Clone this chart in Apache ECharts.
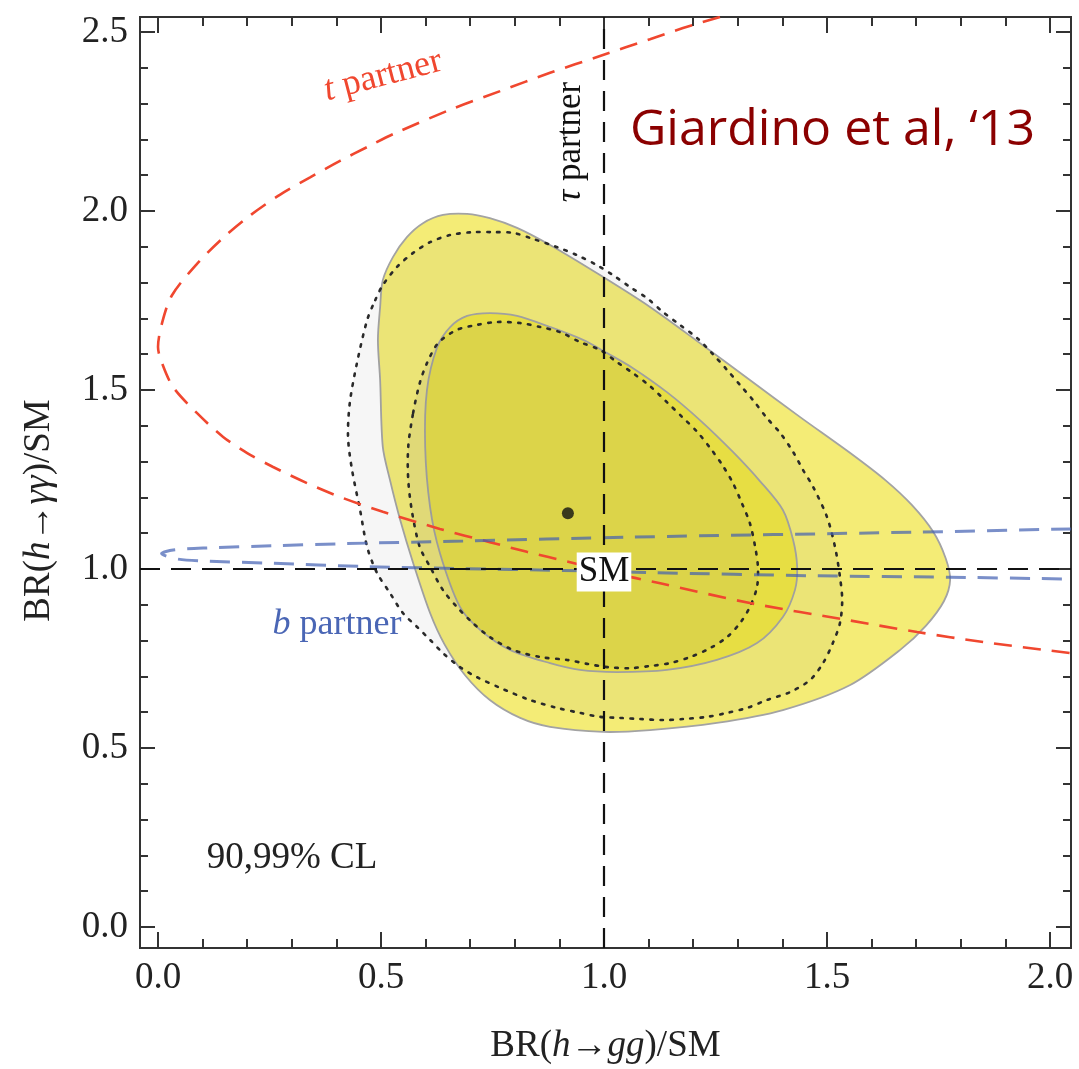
<!DOCTYPE html>
<html><head><meta charset="utf-8">
<script src="https://cdn.jsdelivr.net/npm/echarts@6/dist/echarts.min.js"></script>
<style>html,body{margin:0;padding:0;background:#fff}#c{width:1079px;height:1069px}</style>
</head><body><div id="c"></div>
<script>
// ---------- data (axis units) ----------
const xRange = [-0.0404, 2.047];
const yRange = [-0.0587, 2.542];
const xMajorTicks = [0, 0.5, 1.0, 1.5, 2.0];
const xTickLabels = ['0.0', '0.5', '1.0', '1.5', '2.0'];
const xMinorTicks = [0.1,0.2,0.3,0.4,0.6,0.7,0.8,0.9,1.1,1.2,1.3,1.4,1.6,1.7,1.8,1.9];
const yMajorTicks = [0, 0.5, 1.0, 1.5, 2.0, 2.5];
const yTickLabels = ['0.0', '0.5', '1.0', '1.5', '2.0', '2.5'];
const yMinorTicks = [0.1,0.2,0.3,0.4,0.6,0.7,0.8,0.9,1.1,1.2,1.3,1.4,1.6,1.7,1.8,1.9,2.1,2.2,2.3,2.4];

const bestFit = [[0.919, 1.156]];
const smPoint = [1.0, 1.0];

// 99% CL region (yellow, solid outline)
const fit99 = [[0.693,1.992],[0.744,1.980],[0.805,1.953],[0.879,1.905],[0.991,1.821],[1.103,1.732],[1.215,1.631],
  [1.327,1.528],[1.439,1.425],[1.552,1.324],[1.630,1.249],[1.690,1.179],[1.738,1.104],[1.766,1.030],[1.776,0.969],[1.762,0.910],
  [1.722,0.842],[1.664,0.774],[1.552,0.676],[1.401,0.606],[1.253,0.570],[1.103,0.550],[0.998,0.545],[0.879,0.559],
  [0.812,0.584],[0.744,0.634],[0.688,0.704],[0.643,0.788],[0.610,0.877],[0.572,1.017],[0.543,1.137],[0.520,1.249],
  [0.504,1.341],[0.498,1.528],[0.493,1.640],[0.498,1.732],[0.504,1.807],[0.527,1.872],[0.558,1.927],[0.594,1.966],[0.639,1.989]];
// 90% CL region (yellow, solid outline)
const fit90 = [[0.603,1.500],[0.626,1.620],[0.655,1.676],[0.693,1.707],[0.744,1.715],[0.805,1.707],[0.879,1.676],
  [0.953,1.640],[1.007,1.603],[1.065,1.561],[1.141,1.494],[1.215,1.416],[1.289,1.327],[1.350,1.245],[1.401,1.165],
  [1.424,1.081],[1.433,1.006],[1.428,0.941],[1.401,0.866],[1.343,0.793],[1.253,0.746],[1.141,0.718],[1.029,0.712],
  [0.946,0.718],[0.879,0.737],[0.789,0.774],[0.722,0.830],[0.677,0.894],[0.632,1.045],[0.610,1.173],[0.599,1.341]];
// 99% CL region (dotted contour)
const alt99 = [[0.487,1.751],[0.504,1.793],[0.536,1.844],[0.572,1.883],[0.610,1.913],[0.655,1.933],[0.706,1.941],
  [0.751,1.941],[0.796,1.939],[0.841,1.922],[0.895,1.899],[0.939,1.877],[0.984,1.849],[1.020,1.821],[1.058,1.788],
  [1.096,1.757],[1.132,1.718],[1.170,1.682],[1.209,1.645],[1.242,1.603],[1.276,1.556],[1.305,1.514],[1.334,1.472],
  [1.365,1.422],[1.395,1.380],[1.424,1.327],[1.446,1.277],[1.469,1.229],[1.500,1.145],[1.518,1.061],[1.529,0.978],
  [1.534,0.913],[1.529,0.849],[1.513,0.793],[1.491,0.737],[1.462,0.690],[1.417,0.656],[1.365,0.634],[1.321,0.612],
  [1.276,0.598],[1.231,0.587],[1.177,0.581],[1.132,0.578],[1.081,0.581],[1.036,0.584],[0.991,0.587],[0.946,0.598],
  [0.895,0.612],[0.834,0.634],[0.767,0.668],[0.715,0.698],[0.677,0.726],[0.639,0.765],[0.610,0.802],[0.581,0.838],
  [0.549,0.877],[0.520,0.933],[0.491,0.989],[0.469,1.061],[0.453,1.165],[0.435,1.277],[0.426,1.369],[0.430,1.464],
  [0.446,1.575],[0.469,1.696]];
// 90% CL region (dotted contour)
const alt90 = [[0.572,1.436],[0.587,1.520],[0.603,1.575],[0.628,1.631],[0.670,1.668],[0.715,1.682],[0.760,1.690],
  [0.812,1.687],[0.857,1.676],[0.901,1.662],[0.946,1.634],[0.991,1.612],[1.029,1.578],[1.065,1.547],[1.103,1.511],
  [1.141,1.466],[1.175,1.425],[1.209,1.383],[1.238,1.338],[1.265,1.291],[1.289,1.240],[1.309,1.184],[1.327,1.128],
  [1.339,1.061],[1.345,1.006],[1.343,0.950],[1.327,0.894],[1.305,0.849],[1.276,0.810],[1.238,0.779],[1.193,0.754],
  [1.148,0.737],[1.103,0.729],[1.058,0.723],[1.007,0.726],[0.962,0.735],[0.917,0.746],[0.857,0.754],[0.796,0.774],
  [0.744,0.810],[0.706,0.849],[0.670,0.894],[0.639,0.941],[0.610,1.006],[0.587,1.061],[0.570,1.156],[0.561,1.249],
  [0.561,1.341]];
// t partner curve
const tPartner = [[1.260,2.542],[1.177,2.511],[1.103,2.480],[0.991,2.433],[0.879,2.386],[0.767,2.335],[0.655,2.283],
  [0.531,2.217],[0.471,2.180],[0.408,2.140],[0.341,2.094],[0.274,2.046],[0.209,1.990],[0.146,1.925],[0.085,1.849],
  [0.031,1.764],[0.009,1.687],[0.000,1.620],[0.009,1.575],[0.034,1.508],[0.087,1.436],[0.146,1.369],[0.200,1.324],
  [0.258,1.285],[0.334,1.240],[0.415,1.198],[0.504,1.160],[0.632,1.112],[0.744,1.075],[0.827,1.048],[0.924,1.019],
  [1.058,0.978],[1.126,0.960],[1.327,0.905],[1.552,0.856],[1.702,0.824],[1.850,0.796],[2.047,0.765]];
// b partner curve (upper branch right->left, then lower branch left->right)
const bPartner = [[2.047,1.112],[1.702,1.103],[1.058,1.089],[0.684,1.078],[0.424,1.071],[0.258,1.065],[0.110,1.059],
  [0.034,1.053],[0.008,1.043],[0.043,1.028],[0.110,1.022],[0.258,1.016],[0.460,1.007],[0.684,1.001],[0.908,0.996],
  [1.103,0.990],[1.478,0.981],[1.776,0.977],[2.047,0.972]];

// ---------- chart ----------
const SERIF = '"Liberation Serif", "Times New Roman", serif';
const chart = echarts.init(document.getElementById('c'), null, {renderer: 'canvas'});

function polySeries(name, pts, fill, stroke, lw, dash, z) {
  return {
    type: 'custom', name, coordinateSystem: 'cartesian2d', xAxisIndex: 0, yAxisIndex: 0,
    z, silent: true, clip: true,
    data: [[pts[0][0], pts[0][1]]],
    renderItem: (params, api) => ({
      type: 'polygon',
      shape: {points: pts.map(p => api.coord(p)), smooth: 0.3},
      style: {fill, stroke, lineWidth: lw, lineDash: dash, lineCap: 'round'}
    })
  };
}

const tickStyle = {color: '#333', width: 2};
function xAx(pos, ticks, len, withLabel, extra) {
  return Object.assign({
    type: 'value', position: pos, min: xRange[0], max: xRange[1], gridIndex: 0,
    axisLine: {show: true, onZero: false, lineStyle: {color: '#333', width: 2}},
    axisTick: {show: true, inside: true, length: len, customValues: ticks, lineStyle: tickStyle},
    axisLabel: withLabel ? {show: true, customValues: xMajorTicks, margin: 12,
      formatter: v => xTickLabels[xMajorTicks.findIndex(t => Math.abs(t - v) < 1e-6)] || '',
      fontFamily: SERIF, fontSize: 37, color: '#222'} : {show: false},
    splitLine: {show: false}
  }, extra || {});
}
function yAx(pos, ticks, len, withLabel, extra) {
  return Object.assign({
    type: 'value', position: pos, min: yRange[0], max: yRange[1], gridIndex: 0,
    axisLine: {show: true, onZero: false, lineStyle: {color: '#333', width: 2}},
    axisTick: {show: true, inside: true, length: len, customValues: ticks, lineStyle: tickStyle},
    axisLabel: withLabel ? {show: true, customValues: yMajorTicks, margin: 12,
      formatter: v => yTickLabels[yMajorTicks.findIndex(t => Math.abs(t - v) < 1e-6)] || '',
      fontFamily: SERIF, fontSize: 37, color: '#222'} : {show: false},
    splitLine: {show: false}
  }, extra || {});
}

const option = {
  backgroundColor: '#fff',
  animation: false,
  grid: {left: 140, right: 8, top: 17, bottom: 121, containLabel: false, outerBoundsMode: 'none'},
  xAxis: [
    xAx('bottom', xMajorTicks, 16, true, {
      name: 'BR({i|h}→{i|gg})/SM', nameLocation: 'middle', nameGap: 80, nameMoveOverlap: false,
      nameTextStyle: {fontFamily: SERIF, fontSize: 37, color: '#222',
        rich: {i: {fontFamily: SERIF, fontSize: 37, fontStyle: 'italic', color: '#222'}}}
    }),
    xAx('bottom', xMinorTicks, 9, false),
    xAx('top', xMajorTicks, 16, false),
    xAx('top', xMinorTicks, 9, false)
  ],
  yAxis: [
    yAx('left', yMajorTicks, 15, true, {
      name: 'BR({i|h}→{i|γγ})/SM', nameLocation: 'middle', nameGap: 82, nameMoveOverlap: false,
      nameTextStyle: {fontFamily: SERIF, fontSize: 37, color: '#222', padding: [0, 56, 0, 0],
        rich: {i: {fontFamily: SERIF, fontSize: 37, fontStyle: 'italic', color: '#222'}}}
    }),
    yAx('left', yMinorTicks, 8, false),
    yAx('right', yMajorTicks, 15, false),
    yAx('right', yMinorTicks, 8, false)
  ],
  series: [
    polySeries('fit99', fit99, '#f4ec76', '#a3a3a3', 1.8, null, 2),
    polySeries('fit90', fit90, '#efe63f', '#a3a3a3', 1.8, null, 3),
    polySeries('alt99', alt99, 'rgba(128,128,128,0.07)', '#2a2a2a', 2.6, [2.5, 7.5], 4),
    polySeries('alt90', alt90, 'rgba(128,128,128,0.10)', '#2a2a2a', 2.6, [2.5, 7.5], 5),
    {
      type: 'line', name: 't partner', data: tPartner, smooth: 0.3, showSymbol: false, symbol: 'none', z: 6,
      silent: true, clip: true,
      lineStyle: {color: '#f0472f', width: 2.6, type: [18, 11]}
    },
    {
      type: 'line', name: 'b partner', data: bPartner, smooth: 0.3, showSymbol: false, symbol: 'none', z: 6,
      silent: true, clip: true,
      lineStyle: {color: 'rgba(65,95,178,0.7)', width: 3, type: [20, 12]}
    },
    {
      type: 'scatter', name: 'best fit', data: bestFit, symbol: 'circle', symbolSize: 12, z: 8,
      itemStyle: {color: '#111'}, silent: true,
      markLine: {
        silent: true, symbol: ['none', 'none'], label: {show: false}, z: 7,
        lineStyle: {color: '#111', width: 2.2, type: [20, 11]},
        data: [{yAxis: smPoint[1]}, {xAxis: smPoint[0]}]
      }
    }
  ],
  graphic: [
    {type: 'text', x: 383, y: 76, rotation: 0.255, z: 20,
      style: {text: '{i|t} partner', fill: '#f0472f', font: '36px ' + SERIF,
        textAlign: 'center', textVerticalAlign: 'middle', align: 'center', verticalAlign: 'middle',
        rich: {i: {fontStyle: 'italic', fontFamily: SERIF, fontSize: 36, fill: '#f0472f', color: '#f0472f'}}}},
    {type: 'text', x: 571, y: 142, rotation: Math.PI / 2, z: 20,
      style: {text: '{i|τ} partner', fill: '#111', font: '35px ' + SERIF,
        textAlign: 'center', textVerticalAlign: 'middle', align: 'center', verticalAlign: 'middle',
        rich: {i: {fontStyle: 'italic', fontFamily: SERIF, fontSize: 35, fill: '#111', color: '#111'}}}},
    {type: 'text', x: 630, y: 131, z: 20,
      style: {text: 'Giardino et al, ‘13', fill: '#8b0000', font: '50px "Open Sans", "Noto Sans", sans-serif',
        textAlign: 'left', textVerticalAlign: 'middle', align: 'left', verticalAlign: 'middle'}},
    {type: 'text', x: 604, y: 572, z: 20,
      style: {text: 'SM', fill: '#111', font: '35px ' + SERIF, backgroundColor: '#fff', padding: [3, 2, 1, 2],
        textAlign: 'center', textVerticalAlign: 'middle', align: 'center', verticalAlign: 'middle'}},
    {type: 'text', x: 337, y: 625, z: 20,
      style: {text: '{i|b} partner', fill: '#4a66b5', font: '36px ' + SERIF,
        textAlign: 'center', textVerticalAlign: 'middle', align: 'center', verticalAlign: 'middle',
        rich: {i: {fontStyle: 'italic', fontFamily: SERIF, fontSize: 36, fill: '#4a66b5', color: '#4a66b5'}}}},
    {type: 'text', x: 292, y: 858, z: 20,
      style: {text: '90,99% CL', fill: '#222', font: '37px ' + SERIF,
        textAlign: 'center', textVerticalAlign: 'middle', align: 'center', verticalAlign: 'middle'}}
  ]
};
chart.setOption(option);
</script>
</body></html>
